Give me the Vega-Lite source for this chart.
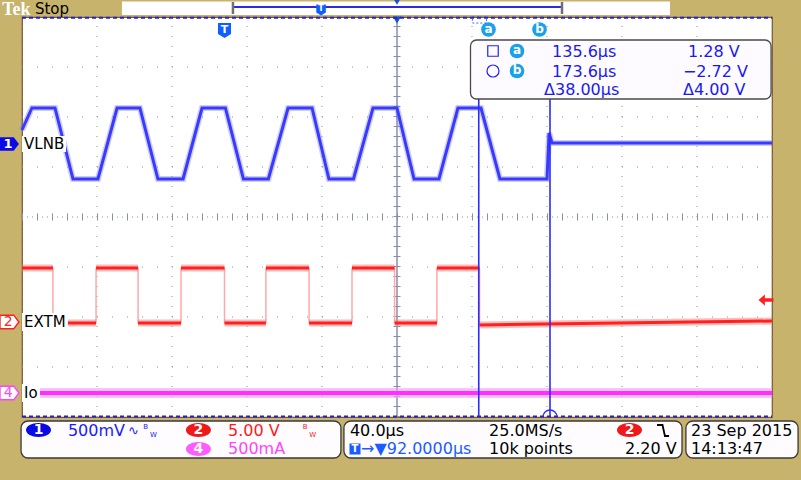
{
"$schema":"https://vega.github.io/schema/vega-lite/v6.json",
"width":750,"height":400,
"autosize":{"type":"none"},
"padding":{"left":22,"top":17,"right":29,"bottom":63},
"background":"#c7b36c",
"config":{"view":{"fill":"#ffffff","stroke":"#7a5530","strokeWidth":1.2},"text":{"font":"DejaVu Sans"}},
"encoding":{
 "x":{"field":"t","type":"quantitative","scale":{"domain":[-108,292],"nice":false,"zero":false},"axis":null},
 "y":{"field":"v","type":"quantitative","scale":{"domain":[-4,4],"nice":false,"zero":false},"axis":null}
},
"datasets":{
 "vgrid":[{"t":-108,"v":-4,"v2":4},{"t":-68,"v":-4,"v2":4},{"t":-28,"v":-4,"v2":4},{"t":12,"v":-4,"v2":4},{"t":52,"v":-4,"v2":4},{"t":132,"v":-4,"v2":4},{"t":172,"v":-4,"v2":4},{"t":212,"v":-4,"v2":4},{"t":252,"v":-4,"v2":4},{"t":292,"v":-4,"v2":4}],
 "hgrid":[{"v":-4,"t":-108,"t2":292},{"v":-3,"t":-108,"t2":292},{"v":-2,"t":-108,"t2":292},{"v":-1,"t":-108,"t2":292},{"v":1,"t":-108,"t2":292},{"v":2,"t":-108,"t2":292},{"v":3,"t":-108,"t2":292},{"v":4,"t":-108,"t2":292}],
 "center_t":[{"t":92,"v":-4,"v2":4}],
 "center_v":[{"v":0,"t":-108,"t2":292}],
 "ch1":[{"i":0,"t":-108,"v":1.74},{"i":1,"t":-102.7,"v":2.18},{"i":2,"t":-90.4,"v":2.18},{"i":3,"t":-80.8,"v":0.76},{"i":4,"t":-67.5,"v":0.76},{"i":5,"t":-57.3,"v":2.18},{"i":6,"t":-45.1,"v":2.18},{"i":7,"t":-35.5,"v":0.76},{"i":8,"t":-22.1,"v":0.76},{"i":9,"t":-12.0,"v":2.18},{"i":10,"t":0.5,"v":2.18},{"i":11,"t":10.1,"v":0.76},{"i":12,"t":23.4,"v":0.76},{"i":13,"t":33.9,"v":2.18},{"i":14,"t":46.7,"v":2.18},{"i":15,"t":55.7,"v":0.76},{"i":16,"t":68.8,"v":0.76},{"i":17,"t":79.2,"v":2.18},{"i":18,"t":92.0,"v":2.18},{"i":19,"t":101.1,"v":0.76},{"i":20,"t":114.4,"v":0.76},{"i":21,"t":124.5,"v":2.18},{"i":22,"t":136.8,"v":2.18},{"i":23,"t":146.9,"v":0.76},{"i":24,"t":172.0,"v":0.76},{"i":25,"t":173.1,"v":1.68},{"i":26,"t":174.7,"v":1.48},{"i":27,"t":292,"v":1.48}],
 "ch2flat":[{"t":-108,"t2":-91.5,"v":-1.02,"v2":-1.02},{"t":-91.5,"t2":-68.5,"v":-2.12,"v2":-2.12},{"t":-68.5,"t2":-46.1,"v":-1.02,"v2":-1.02},{"t":-46.1,"t2":-23.2,"v":-2.12,"v2":-2.12},{"t":-23.2,"t2":0,"v":-1.02,"v2":-1.02},{"t":0,"t2":22.1,"v":-2.12,"v2":-2.12},{"t":22.1,"t2":45.1,"v":-1.02,"v2":-1.02},{"t":45.1,"t2":68,"v":-2.12,"v2":-2.12},{"t":68,"t2":90.7,"v":-1.02,"v2":-1.02},{"t":90.7,"t2":113.3,"v":-2.12,"v2":-2.12},{"t":113.3,"t2":136,"v":-1.02,"v2":-1.02},{"t":136,"t2":292,"v":-2.16,"v2":-2.08}],
 "ch2edge":[{"t":-91.5,"v":-1.02,"v2":-2.12},{"t":-68.5,"v":-1.02,"v2":-2.12},{"t":-46.1,"v":-1.02,"v2":-2.12},{"t":-23.2,"v":-1.02,"v2":-2.12},{"t":0,"v":-1.02,"v2":-2.12},{"t":22.1,"v":-1.02,"v2":-2.12},{"t":45.1,"v":-1.02,"v2":-2.12},{"t":68,"v":-1.02,"v2":-2.12},{"t":90.7,"v":-1.02,"v2":-2.12},{"t":113.3,"v":-1.02,"v2":-2.12},{"t":136,"v":-1.02,"v2":-2.16}],
 "ch4":[{"i":0,"t":-108,"v":-3.52},{"i":1,"t":292,"v":-3.52}],
 "cursors":[{"t":135.6,"v":2.36,"v2":-4},{"t":173.6,"v":2.36,"v2":-4}],
 "semi":[{"t":173.6,"v":-4}],
 "labelbg":[{"t":-108,"t2":-84.5,"v":1.62,"v2":1.3},{"t":-108,"t2":-83.5,"v":-1.92,"v2":-2.28},{"t":-108,"t2":-98.4,"v":-3.34,"v2":-3.7}],
 "labels":[{"t":-106.9,"v":1.46,"label":"VLNB"},{"t":-106.9,"v":-2.1,"label":"EXTM"},{"t":-106.9,"v":-3.52,"label":"Io"}],
 "readoutbox":[{"t":131.2,"t2":291.5,"v":3.54,"v2":2.36}],
 "readout":[{"t":174.7,"v":3.3,"label":"135.6µs"},{"t":174.7,"v":2.91,"label":"173.6µs"},{"t":170.4,"v":2.54,"label":"Δ38.00µs"},{"t":247.2,"v":3.3,"label":"1.28 V"},{"t":244.5,"v":2.91,"label":"−2.72 V"},{"t":244.5,"v":2.54,"label":"Δ4.00 V"}],
 "sq":[{"t":143.2,"v":3.32}],
 "circ":[{"t":143.2,"v":2.92}],
 "curmarks":[{"t":156,"v":3.32,"label":"a"},{"t":156,"v":2.92,"label":"b"},{"t":140.8,"v":3.75,"label":"a"},{"t":168,"v":3.75,"label":"b"}],
 "trig":[{"t":0,"v":3.73,"label":"T"}],
 "bartrig":[{"t":51.5,"v":4.14,"label":"T"}],
 "tri":[{"t":92,"v":3.94}],
 "tri2":[{"t":92,"v":4.3}],
 "bracket":[{"t":132.3,"t2":139.7,"v":4.0,"v2":3.88}],
 "borders":[{"v":3.985,"t":-108,"t2":292},{"v":-3.99,"t":-108,"t2":292}],
 "bar":[{"t":-54.7,"t2":237.6,"v":4.31,"v2":4.04}],
 "barline":[{"t":4.5,"t2":180,"v":4.2}],
 "barbrackets":[{"t":4.5,"v":4.3,"v2":4.06},{"t":180,"v":4.3,"v2":4.06}],
 "tek":[{"t":-118.6,"v":4.04,"label":"Tek"}],
 "stop":[{"t":-101.1,"v":4.06,"label":"Stop"}],
 "m1":[{"t":-114.7,"v":1.46}],
 "m2":[{"t":-114.7,"v":-2.1}],
 "m4":[{"t":-114.7,"v":-3.52}],
 "mt1":[{"t":-115.4,"v":1.46,"label":"1"}],
 "mt2":[{"t":-115.4,"v":-2.1,"label":"2"}],
 "mt4":[{"t":-115.4,"v":-3.52,"label":"4"}],
 "trigarrow":[{"t":288.8,"v":-1.66}],
 "boxes":[{"t":-108.5,"t2":62.1,"v":-4.08,"v2":-4.82},{"t":63.7,"t2":244,"v":-4.08,"v2":-4.82},{"t":246.1,"t2":305.9,"v":-4.08,"v2":-4.82}],
 "ell_blue":[{"t":-99.2,"v":-4.26}],
 "ell_red":[{"t":-13.9,"v":-4.26},{"t":216,"v":-4.26}],
 "ell_mag":[{"t":-13.9,"v":-4.64}],
 "elltext":[{"t":-99.2,"v":-4.26,"label":"1"},{"t":-13.9,"v":-4.26,"label":"2"},{"t":216,"v":-4.26,"label":"2"},{"t":-13.9,"v":-4.64,"label":"4"}],
 "black":[{"t":66.9,"v":-4.27,"label":"40.0µs"},{"t":141.1,"v":-4.27,"label":"25.0MS/s"},{"t":141.1,"v":-4.63,"label":"10k points"},{"t":213.6,"v":-4.63,"label":"2.20 V"},{"t":248.8,"v":-4.27,"label":"23 Sep  2015"},{"t":248.8,"v":-4.63,"label":"14:13:47"}],
 "blue":[{"t":-83.5,"v":-4.27,"label":"500mV"}],
 "sine":[{"t":-51.5,"v":-4.27,"label":"∿"}],
 "bwblue":[{"t":-42.0,"v":-4.19,"label":"B"},{"t":-37.9,"v":-4.35,"label":"W"}],
 "bwred":[{"t":43.0,"v":-4.19,"label":"B"},{"t":47.0,"v":-4.35,"label":"W"}],
 "red":[{"t":1.9,"v":-4.27,"label":"5.00 V"}],
 "mag":[{"t":1.9,"v":-4.63,"label":"500mA"}],
 "tbox":[{"t":69.6,"v":-4.64,"label":"T"}],
 "tdelay":[{"t":72.8,"v":-4.63,"label":"→▼92.0000µs"}],
 "edge":[{"i":0,"t":230.7,"v":-4.16},{"i":1,"t":233.6,"v":-4.16},{"i":2,"t":234.9,"v":-4.38},{"i":3,"t":237.1,"v":-4.38}]
},
"layer":[
 {"data":{"name":"vgrid"},"mark":{"type":"rule","color":"#8890a8","strokeWidth":1,"strokeDash":[1,9]},"encoding":{"y2":{"field":"v2"}}},
 {"data":{"name":"hgrid"},"mark":{"type":"rule","color":"#8890a8","strokeWidth":1,"strokeDash":[1,14]},"encoding":{"x2":{"field":"t2"}}},
 {"data":{"name":"center_t"},"mark":{"type":"rule","color":"#a7aac0","strokeWidth":2},"encoding":{"y2":{"field":"v2"}}},
 {"data":{"name":"center_t"},"mark":{"type":"rule","color":"#8890a8","strokeWidth":7,"strokeDash":[1,9]},"encoding":{"y2":{"field":"v2"}}},
 {"data":{"name":"center_v"},"mark":{"type":"rule","color":"#8890a8","strokeWidth":1,"strokeDash":[1,4]},"encoding":{"x2":{"field":"t2"}}},
 {"data":{"name":"center_v"},"mark":{"type":"rule","color":"#8890a8","strokeWidth":7,"strokeDash":[1,14]},"encoding":{"x2":{"field":"t2"}}},
 {"data":{"name":"ch4"},"mark":{"type":"line","color":"#ff99ff","strokeWidth":10,"opacity":0.6},"encoding":{"order":{"field":"i"}}},
 {"data":{"name":"ch4"},"mark":{"type":"line","color":"#ff30ff","strokeWidth":4},"encoding":{"order":{"field":"i"}}},
 {"data":{"name":"ch2edge"},"mark":{"type":"rule","color":"#ffa8a8","strokeWidth":1.5},"encoding":{"y2":{"field":"v2"}}},
 {"data":{"name":"ch2flat"},"mark":{"type":"rule","color":"#ff7a7a","strokeWidth":7,"opacity":0.5},"encoding":{"x2":{"field":"t2"},"y2":{"field":"v2"}}},
 {"data":{"name":"ch2flat"},"mark":{"type":"rule","color":"#ff2020","strokeWidth":3},"encoding":{"x2":{"field":"t2"},"y2":{"field":"v2"}}},
 {"data":{"name":"ch1"},"mark":{"type":"line","color":"#7070ff","strokeWidth":6,"opacity":0.35},"encoding":{"order":{"field":"i"}}},
 {"data":{"name":"ch1"},"mark":{"type":"line","color":"#3a3aff","strokeWidth":3},"encoding":{"order":{"field":"i"}}},
 {"data":{"name":"cursors"},"mark":{"type":"rule","color":"#2b2bff","strokeWidth":1.6},"encoding":{"y2":{"field":"v2"}}},
 {"data":{"name":"semi"},"mark":{"type":"point","shape":"M -1 0 C -1 -0.552 -0.552 -1 0 -1 C 0.552 -1 1 -0.552 1 0","filled":false,"stroke":"#2b2bff","strokeWidth":1.3,"size":196,"opacity":1}},
 {"data":{"name":"labelbg"},"mark":{"type":"rect","fill":"#ffffff"},"encoding":{"x2":{"field":"t2"},"y2":{"field":"v2"}}},
 {"data":{"name":"labels"},"mark":{"type":"text","align":"left","baseline":"middle","fontSize":15,"color":"#000000"},"encoding":{"text":{"field":"label"}}},
 {"data":{"name":"readoutbox"},"mark":{"type":"rect","fill":"#fdfbff","stroke":"#4a4a4a","strokeWidth":1.3,"cornerRadius":6},"encoding":{"x2":{"field":"t2"},"y2":{"field":"v2"}}},
 {"data":{"name":"readout"},"mark":{"type":"text","align":"left","baseline":"middle","fontSize":16,"color":"#1a1aee"},"encoding":{"text":{"field":"label"}}},
 {"data":{"name":"sq"},"mark":{"type":"point","shape":"square","filled":false,"stroke":"#2020ff","strokeWidth":1.2,"size":110,"opacity":1}},
 {"data":{"name":"circ"},"mark":{"type":"point","shape":"circle","filled":false,"stroke":"#2020ff","strokeWidth":1.2,"size":144,"opacity":1}},
 {"data":{"name":"curmarks"},"mark":{"type":"point","shape":"circle","filled":true,"color":"#1ba1ea","size":215,"opacity":1}},
 {"data":{"name":"curmarks"},"mark":{"type":"text","align":"center","baseline":"middle","fontSize":12,"fontWeight":"bold","color":"#ffffff","dy":-1},"encoding":{"text":{"field":"label"}}},
 {"data":{"name":"trig"},"mark":{"type":"point","shape":"M -0.87 -1 L 0.87 -1 L 0.87 0.45 L 0 1 L -0.87 0.45 Z","filled":true,"color":"#1060ff","size":225,"opacity":1}},
 {"data":{"name":"trig"},"mark":{"type":"text","align":"center","baseline":"middle","fontSize":11,"fontWeight":"bold","color":"#ffffff","dy":-1},"encoding":{"text":{"field":"label"}}},
 {"data":{"name":"tri"},"mark":{"type":"point","shape":"triangle-down","filled":true,"color":"#1a4adc","size":70,"opacity":1}},
 {"data":{"name":"bracket"},"mark":{"type":"rect","fill":null,"fillOpacity":0,"stroke":"#3a6aff","strokeWidth":1,"strokeDash":[2,2]},"encoding":{"x2":{"field":"t2"},"y2":{"field":"v2"}}},
 {"data":{"name":"borders"},"mark":{"type":"rule","color":"#2323c8","strokeWidth":2,"strokeDash":[4,3]},"encoding":{"x2":{"field":"t2"}}},
 {"data":{"name":"bar"},"mark":{"type":"rect","fill":"#fffdff"},"encoding":{"x2":{"field":"t2"},"y2":{"field":"v2"}}},
 {"data":{"name":"barline"},"mark":{"type":"rule","color":"#2a2ae0","strokeWidth":2},"encoding":{"x2":{"field":"t2"}}},
 {"data":{"name":"barbrackets"},"mark":{"type":"rule","color":"#707070","strokeWidth":2.5},"encoding":{"y2":{"field":"v2"}}},
 {"data":{"name":"bartrig"},"mark":{"type":"point","shape":"M -0.87 -1 L 0.87 -1 L 0.87 0.45 L 0 1 L -0.87 0.45 Z","filled":true,"color":"#1060ff","size":121,"opacity":1}},
 {"data":{"name":"bartrig"},"mark":{"type":"text","align":"center","baseline":"middle","fontSize":8,"fontWeight":"bold","color":"#ffffff","dy":-1},"encoding":{"text":{"field":"label"}}},
 {"data":{"name":"tri2"},"mark":{"type":"point","shape":"triangle-down","filled":true,"color":"#1a4adc","size":40,"opacity":1}},
 {"data":{"name":"tek"},"mark":{"type":"text","align":"left","baseline":"alphabetic","font":"Liberation Serif","fontSize":18,"fontWeight":"bold","color":"#ffffff"},"encoding":{"text":{"field":"label"}}},
 {"data":{"name":"stop"},"mark":{"type":"text","align":"left","baseline":"alphabetic","fontSize":15,"color":"#000000"},"encoding":{"text":{"field":"label"}}},
 {"data":{"name":"m1"},"mark":{"type":"point","shape":"M -1 -0.72 L 0.45 -0.72 L 1 0 L 0.45 0.72 L -1 0.72 Z","filled":true,"color":"#0a0ae6","size":361,"opacity":1}},
 {"data":{"name":"m2"},"mark":{"type":"point","shape":"M -1 -0.72 L 0.45 -0.72 L 1 0 L 0.45 0.72 L -1 0.72 Z","filled":true,"fill":"#ffffff","stroke":"#ff2020","strokeWidth":1.5,"size":361,"opacity":1}},
 {"data":{"name":"m4"},"mark":{"type":"point","shape":"M -1 -0.72 L 0.45 -0.72 L 1 0 L 0.45 0.72 L -1 0.72 Z","filled":true,"fill":"#ffffff","stroke":"#ff44ff","strokeWidth":1.5,"size":361,"opacity":1}},
 {"data":{"name":"mt1"},"mark":{"type":"text","align":"center","baseline":"middle","fontSize":13,"fontWeight":"bold","color":"#ffffff"},"encoding":{"text":{"field":"label"}}},
 {"data":{"name":"mt2"},"mark":{"type":"text","align":"center","baseline":"middle","fontSize":14,"color":"#ff2020"},"encoding":{"text":{"field":"label"}}},
 {"data":{"name":"mt4"},"mark":{"type":"text","align":"center","baseline":"middle","fontSize":14,"color":"#ff44ff"},"encoding":{"text":{"field":"label"}}},
 {"data":{"name":"trigarrow"},"mark":{"type":"point","shape":"M -1 0 L -0.15 -0.75 L -0.15 -0.22 L 1 -0.22 L 1 0.22 L -0.15 0.22 L -0.15 0.75 Z","filled":true,"color":"#ff2020","size":225,"opacity":1}},
 {"data":{"name":"boxes"},"mark":{"type":"rect","fill":"#fefcff","stroke":"#3a3a3a","strokeWidth":1.3,"cornerRadius":7},"encoding":{"x2":{"field":"t2"},"y2":{"field":"v2"}}},
 {"data":{"name":"ell_blue"},"mark":{"type":"point","shape":"M -1 0 C -1 -0.309 -0.552 -0.56 0 -0.56 C 0.552 -0.56 1 -0.309 1 0 C 1 0.309 0.552 0.56 0 0.56 C -0.552 0.56 -1 0.309 -1 0 Z","filled":true,"color":"#0a0ae6","size":625,"opacity":1}},
 {"data":{"name":"ell_red"},"mark":{"type":"point","shape":"M -1 0 C -1 -0.309 -0.552 -0.56 0 -0.56 C 0.552 -0.56 1 -0.309 1 0 C 1 0.309 0.552 0.56 0 0.56 C -0.552 0.56 -1 0.309 -1 0 Z","filled":true,"color":"#f01818","size":625,"opacity":1}},
 {"data":{"name":"ell_mag"},"mark":{"type":"point","shape":"M -1 0 C -1 -0.309 -0.552 -0.56 0 -0.56 C 0.552 -0.56 1 -0.309 1 0 C 1 0.309 0.552 0.56 0 0.56 C -0.552 0.56 -1 0.309 -1 0 Z","filled":true,"color":"#ff5cff","size":625,"opacity":1}},
 {"data":{"name":"elltext"},"mark":{"type":"text","align":"center","baseline":"middle","fontSize":14,"fontWeight":"bold","color":"#ffffff"},"encoding":{"text":{"field":"label"}}},
 {"data":{"name":"black"},"mark":{"type":"text","align":"left","baseline":"middle","fontSize":16,"color":"#000000"},"encoding":{"text":{"field":"label"}}},
 {"data":{"name":"blue"},"mark":{"type":"text","align":"left","baseline":"middle","fontSize":16,"color":"#1a1aff"},"encoding":{"text":{"field":"label"}}},
 {"data":{"name":"sine"},"mark":{"type":"text","align":"left","baseline":"middle","fontSize":13,"color":"#1a1aff"},"encoding":{"text":{"field":"label"}}},
 {"data":{"name":"bwblue"},"mark":{"type":"text","align":"center","baseline":"middle","fontSize":7,"color":"#1a1aff"},"encoding":{"text":{"field":"label"}}},
 {"data":{"name":"bwred"},"mark":{"type":"text","align":"center","baseline":"middle","fontSize":7,"color":"#ff2020"},"encoding":{"text":{"field":"label"}}},
 {"data":{"name":"red"},"mark":{"type":"text","align":"left","baseline":"middle","fontSize":16,"color":"#ff1a1a"},"encoding":{"text":{"field":"label"}}},
 {"data":{"name":"mag"},"mark":{"type":"text","align":"left","baseline":"middle","fontSize":16,"color":"#ff44ff"},"encoding":{"text":{"field":"label"}}},
 {"data":{"name":"tbox"},"mark":{"type":"point","shape":"square","filled":true,"color":"#1a5cff","size":121,"opacity":1}},
 {"data":{"name":"tbox"},"mark":{"type":"text","align":"center","baseline":"middle","fontSize":10,"fontWeight":"bold","color":"#ffffff"},"encoding":{"text":{"field":"label"}}},
 {"data":{"name":"tdelay"},"mark":{"type":"text","align":"left","baseline":"middle","fontSize":16,"color":"#1a5cff"},"encoding":{"text":{"field":"label"}}},
 {"data":{"name":"edge"},"mark":{"type":"line","color":"#000000","strokeWidth":1.8},"encoding":{"order":{"field":"i"}}}
]
}
